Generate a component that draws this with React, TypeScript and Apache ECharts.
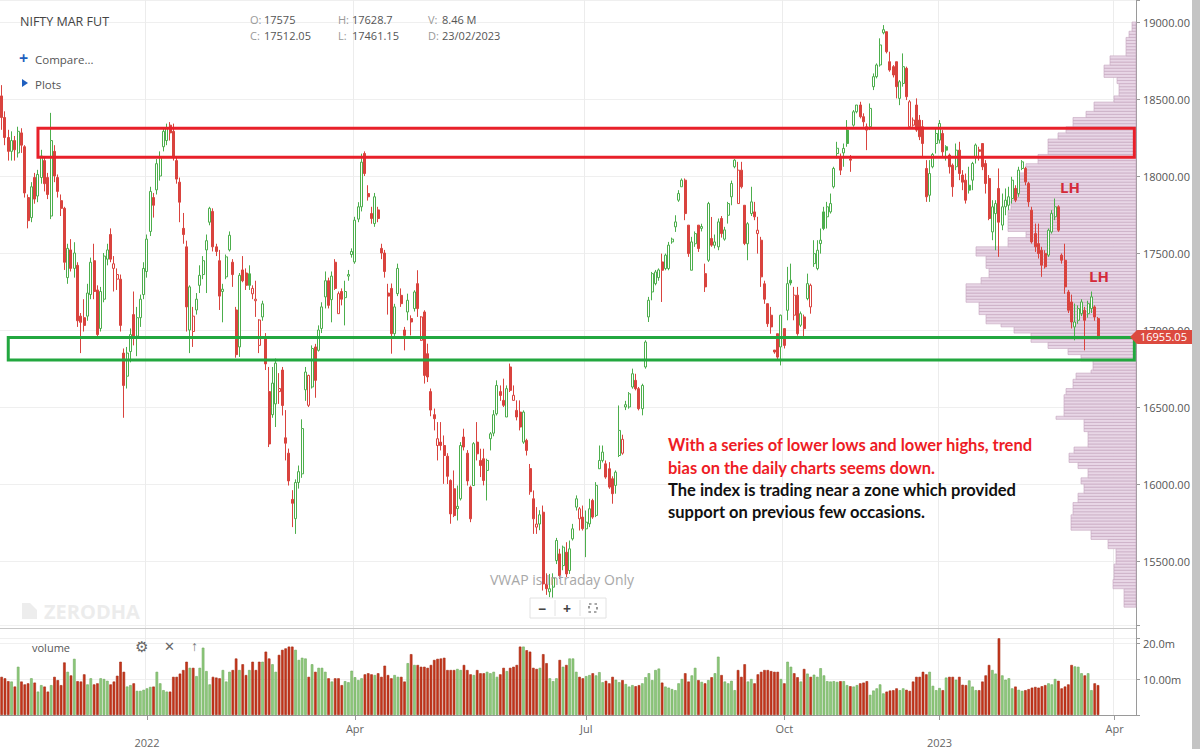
import React, { useEffect, useRef } from 'react';
import * as echarts from 'echarts';

// ---- OHLC data: [open, close, low, high] ----
const segA = [
[18520,18380,18300,18590],[18380,18250,18200,18420],[18250,18160,18100,18300],[18160,18230,18100,18290],[18230,18170,18100,18260],
[18150,18290,18120,18320],[18280,18200,18150,18310],[18190,17890,17860,18200],[17860,17710,17660,17880],[17730,17930,17700,17960],
[17990,17850,17820,18020],[17870,18010,17830,18040],[17990,18130,17950,18170],[18100,17950,17900,18130],[17990,17880,17850,18020],
[17740,18230,17720,18410],[18160,18000,17960,18200],[17990,17900,17860,18010],[17840,17790,17740,17880],[17790,17440,17390,17800],
[17340,17530,17300,17560],[17520,17400,17380,17590],[17400,17500,17340,17570],[17420,17060,17020,17440],[17090,17050,16850,17110],
[17080,17030,16990,17200],[17090,17240,17060,17300],[17230,17440,17200,17470],[17450,17250,17200,17560],[17260,16970,16950,17290],
[17010,17250,16990,17280],[17200,17480,17180,17500],[17460,17520,17420,17560],[17620,17460,17440,17660],[17400,17430,17250,17480],
[17330,17360,17260,17400],[17330,17030,16990,17360],[16850,16640,16430,16880],[16700,16850,16620,16890],[16860,16970,16790,17010],
[17100,16960,16900,17250],[16960,17080,16830,17150],[17080,17200,17020,17230],[17230,17400,17200,17440],[17380,17590,17340,17620],
[17640,17900,17610,17930],[17860,17810,17730,17890],[17910,18080,17880,18110],[18000,18120,17970,18160],[18190,18290,18160,18310],
[18230,18310,18200,18340],[18330,18280,18230,18350],[18290,18120,18100,18340],[18100,17980,17950,18130],[17960,17830,17700,17990],
[17660,17620,17560,17760],[17540,17150,16990,17580],[17000,17280,16850,17290]];
const segB = [
[16990,17090,16890,17150],[17130,17200,17100,17240],[17290,17355,17240,17420],[17360,17450,17330,17480],[17520,17580,17240,17620],
[17700,17790,17680,17800],[17770,17540,17510,17790],[17540,17510,17480,17560],[17450,17220,17130,17520],[17250,17265,17050,17300],
[17345,17475,17330,17490],[17520,17615,17510,17640],[17440,17360,17280,17460],[17130,16840,16820,17150],[16890,17355,16825,17370],
[17390,17320,17310,17480],[17370,17290,17260,17400],[17365,17290,17260,17420],[17235,17270,17200,17290],[17190,17200,17085,17320],
[16900,17065,16850,17070],[17085,17170,17060,17190],[16950,16780,16740,16980],[16600,16260,16240,16760],[16450,16655,16430,16760],
[16520,16785,16370,16815],[16600,16620,16520,16720],[16740,16510,16445,16760],[16300,16265,16153,16480],[16200,16020,15990,16230],
[15900,15875,15720,15960],[15775,16010,15676,16030],[16010,16080,15970,16120],[16066,16360,16040,16420],[16612,16727,16540,16760],
[16511,16705,16500,16710],[16630,16880,16620,16900],[16890,16673,16560,16910],[16868,17000,16860,17030],[17010,17150,16980,17180],
[17215,17320,17140,17380],[17320,17160,17140,17340],[17197,17350,17050,17380],[17440,17270,17260,17460],[17106,17236,17106,17250],
[17250,17200,17160,17270],[17210,17250,17030,17320],[17350,17360,17320,17390],[17490,17510,17470,17530],[17442,17713,17430,17735],
[17720,17800,17700,17830],[17800,18090,17770,18145],[18146,18016,18000,18160],[17886,17865,17840,17940],[17756,17724,17690,17800],
[17691,17865,17670,17890],[17780,17724,17700,17800]];
const segC = [
[17530,17500,17460,17560],[17500,17380,17340,17520],[17240,17220,17100,17300],[17270,16976,16846,17302],[16976,17150,16960,17170],
[17236,17400,17220,17431],[17225,17171,17150,17270],[17000,16965,16868,17020],[17117,17193,17063,17236],[17074,17052,16965,17095],
[17139,17247,17120,17258],[17301,17139,17085,17388],[16933,17085,16930,17090],[17117,16705,16652,17128],[16846,16695,16662,16911],
[16600,16480,16440,16620],[16450,16424,16348,16490],[16250,16294,16153,16402],[16272,16250,16218,16402],[16250,16185,16001,16315],
[16180,16050,16000,16200],[16023,15806,15742,16030],[15969,15795,15785,16088],[15840,15855,15763,15990],[15904,16250,15893,16272],
[16305,16240,16218,16359],[16200,16020,15990,16220],[15980,15774,15752,15990],[15990,16262,15990,16272],[16272,16196,16153,16402],
[16153,16120,16045,16229],[16164,16023,15991,16229],[16088,16153,15893,16164],[16294,16326,16218,16337],[16330,16450,16310,16480],
[16456,16640,16445,16673],[16600,16575,16540,16640],[16543,16511,16500,16684],[16435,16619,16435,16640],[16760,16608,16597,16782],
[16543,16576,16543,16640],[16478,16435,16413,16543],[16467,16370,16348,16543],[16272,16467,16261,16478],[16283,16218,16185,16294],
[16100,15950,15930,16130],[15904,15774,15676,15958],[15720,15740,15676,15850],[15740,15800,15700,15830],[15817,15351,15308,15860],
[15350,15320,15280,15420],[15300,15320,15265,15416],[15330,15390,15250,15420],[15503,15633,15480,15650],[15546,15405,15383,15579],
[15470,15590,15440,15600]];
const segD = [
[15557,15416,15395,15622],[15438,15579,15416,15633],[15644,15709,15633,15741],[15850,15904,15828,15926],[15774,15839,15698,15850],
[15785,15710,15698,15860],[15709,15752,15525,15828],[15741,15839,15720,15904],[15893,15785,15774,15904],[15796,15991,15785,16012],
[16099,16153,16099,16250],[16153,16207,16140,16250],[16131,16045,16034,16153],[16099,15980,15969,16142],[16034,15937,15872,16050],
[15991,16077,15937,16088],[16185,16348,16175,16510],[16200,16290,16190,16320],[16500,16515,16480,16540],[16500,16586,16489,16597],
[16630,16716,16619,16749],[16673,16619,16608,16716],[16619,16489,16478,16630],[16489,16640,16446,16651],[16760,16922,16749,16933],
[17085,17193,17052,17215],[17247,17366,17193,17377],[17301,17377,17290,17390],[17340,17390,17320,17400],
[17442,17388,17182,17496],[17399,17486,17388,17496],[17399,17551,17388,17572],[17572,17590,17560,17600],[17670,17702,17637,17745],
[17843,17886,17832,17908],[17930,17973,17930,17984],[17973,17756,17713,17984],[17681,17496,17475,17681],[17388,17572,17388,17605],
[17560,17626,17540,17640],[17681,17529,17507,17681],[17660,17672,17640,17690],[17366,17280,17247,17431],[17453,17821,17442,17832],
[17594,17551,17540,17734],[17550,17572,17530,17620],[17540,17702,17518,17724],[17724,17626,17600,17740],
[17590,17650,17580,17670],[17745,17821,17691,17832],[17865,17951,17810,17970],[18060,18103,18050,18110],
[17821,18038,17821,18092],[18038,17930,17919,18092],[17810,17562,17551,17810]];
const segE = [
[17560,17690,17453,17700],[17756,17832,17740,17930],[17767,17735,17713,17832],[17626,17648,17496,17735],[17583,17345,17280,17605],
[17300,17200,17170,17320],[17171,17041,17020,17171],[17096,17020,16976,17150],[16870,16857,16846,16870],[16976,16824,16800,16976],
[16890,17096,16770,17100],[17009,16900,16880,17009],[17128,17301,17063,17410],[17323,17305,17290,17431],
[17096,17226,17063,17280],[17226,16976,16963,17280],[17031,17106,17020,17120],[17085,17009,16943,17100],[17204,17301,17193,17366],
[17150,17290,17106,17301],[17431,17496,17410,17583],[17399,17518,17388,17583],[17561,17583,17496,17659],
[17767,17659,17648,17800],[17735,17800,17659,17832],[17767,17821,17756,17886],[17930,18049,17919,18060],[18146,18180,18114,18222],
[18125,18038,18006,18146],[18150,18179,18060,18211],[18298,18211,18190,18363],[18110,18103,18027,18136],
[18330,18417,18320,18428],[18417,18461,18407,18461],[18461,18385,18374,18482],[18385,18352,18320,18407],[18298,18320,18168,18341],
[18320,18439,18298,18471],[18580,18645,18558,18666],[18645,18721,18634,18731],[18721,18851,18710,18894],
[18930,18950,18920,18980],[18937,18807,18796,18937],[18742,18688,18677,18807],[18710,18656,18640,18720],
[18742,18580,18504,18742],[18504,18612,18460,18623],[18601,18710,18580,18796],[18699,18515,18493,18710],[18320,18482,18320,18493],
[18330,18363,18320,18380],[18461,18298,18287,18504],[18363,18255,18233,18396],[18320,18211,18125,18363],[18049,17865,17832,18103],
[17875,18016,17832,18103],[18060,18140,18050,18150]];
const segF = [
[18211,18276,18146,18309],[18233,18341,18211,18363],[18276,18157,18125,18298],[18190,18168,18100,18200],
[18136,18060,18016,18146],[18070,17930,17865,18081],[18060,18168,18038,18211],[18168,18016,17973,18222],[18006,17960,17908,18038],
[17973,17843,17821,18016],[17940,17908,17886,18060],[17973,18081,17908,18092],
[18125,18201,18081,18211],[18170,18160,18100,18190],[18211,18060,18038,18211],[18081,17951,17886,18103],
[17984,17724,17713,18006],[17637,17800,17583,17843],[17756,17821,17518,17843],[17919,17700,17475,18049],
[17681,17800,17648,17886],[17800,17843,17745,17919],[17810,17865,17778,17930],[17854,17973,17821,17995],
[17919,17843,17830,17940],[17886,18038,17865,18060],[18049,18092,18038,18103],
[18049,17962,17940,18060],[17951,17832,17800,17962],[17778,17572,17561,17800],[17626,17540,17507,17691],
[17561,17496,17464,17691],[17518,17421,17345,17540],[17496,17410,17399,17518],[17486,17648,17475,17659],
[17637,17756,17626,17778],[17735,17800,17713,17854],[17800,17648,17637,17810],[17486,17453,17431,17497],
[17453,17280,17235,17560],[17247,17128,17110,17260],[17182,17052,17010,17230],[17020,17052,16933,17172],
[17063,17139,17040,17160],[17106,17182,17090,17200],[17128,17063,16868,17150],[17106,17171,17080,17190],[17139,17215,17110,17250],
[17150,17085,17060,17160],[17074,16955,16940,17085]];

// ---- volume (millions) ----
const volA = [10.6,10.2,9.4,9.3,7.9,13.4,9.3,8.5,8.8,10.2,9.0,6.5,8.3,7.9,6.5,8.3,10.6,9.7,8.3,14.6,12.0,11.0,15.6,9.4,9.3,11.3,8.5,10.2,8.5,8.8,10.2,10.0,9.5,8.5,9.3,10.9,14.8,12.0,7.9,8.3,8.8,6.7,6.7,7.0,7.4,7.8,7.9,12.0,8.8,6.9,6.5,6.5,10.6,10.6,11.5,12.5,14.8,13.1];
const volB = [13.1,10.8,13.1,18.7,12.2,8.5,10.6,10.4,10.2,12.5,9.3,12.0,12.5,15.7,12.5,14.1,11.1,12.5,14.8,12.5,14.8,14.8,17.6,15.7,14.1,12.0,16.7,18.1,18.5,19.0,19.0,18.1,15.3,15.9,15.7,10.6,14.1,12.0,13.1,13.1,12.0,10.2,9.3,10.2,10.2,8.3,9.4,9.1,12.3,10.5,9.7,10.2,11.3,11.6,11.3,11.1,11.6];
const volC = [10.6,13.7,11.1,10.2,11.1,10.6,10.6,9.3,14.4,16.9,13.9,13.9,13.4,13.4,13.1,13.9,15.3,15.6,15.7,15.9,12.5,12.5,12.5,12.8,12.5,13.9,12.5,11.3,11.1,12.5,11.6,11.6,12.0,11.6,12.0,10.6,11.3,13.1,12.2,13.1,13.4,13.9,19.0,19.0,18.0,17.6,13.1,12.8,13.1,16.9,14.4,10.2,9.4,10.2,15.3,13.4];
const volD = [13.9,15.7,15.7,12.0,10.6,10.2,10.8,11.1,11.6,11.0,11.9,9.1,9.5,8.8,10.6,9.8,9.1,9.7,8.6,7.9,8.3,8.0,8.3,8.8,10.5,11.6,9.7,12.5,12.9,9.0,7.9,7.6,7.2,6.9,8.8,10.0,11.6,9.3,11.0,13.1,9.7,9.2,8.8,9.7,10.5,11.6,16.2,11.1,9.3,8.8,9.5,6.9,12.5,10.6,14.1];
const volE = [9.3,10.0,8.8,11.3,12.0,12.5,12.5,12.2,12.0,12.0,10.0,8.8,14.8,13.4,11.6,10.5,9.3,12.8,11.5,10.6,11.2,10.6,13.0,11.0,9.4,9.3,9.4,9.2,9.4,9.4,8.3,8.0,7.9,8.3,8.8,9.0,9.4,5.6,6.8,7.4,8.5,6.0,6.5,6.8,6.9,7.4,6.9,7.4,7.0,6.7,9.3,10.6,10.6,12.0,11.3,12.0,8.1];
const volF = [6.9,7.5,6.9,10.4,10.6,10.6,9.8,10.6,8.4,8.3,9.6,7.9,6.9,6.9,9.3,11.0,13.9,12.5,11.5,21.3,11.0,9.8,10.2,7.4,7.9,7.0,6.7,6.9,7.2,7.6,7.8,7.6,8.0,8.3,8.8,8.5,10.0,9.5,7.4,7.9,8.5,13.9,13.5,13.4,11.6,11.0,11.6,6.9,8.8,8.3];

// ---- axis ticks ----
const tickIdx = [44, 107, 177, 237, 284, 337];
const tickText = ['2022', 'Apr', 'Jul', 'Oct', '2023', 'Apr'];
const categoryCount = 344;
const priceLabels = [15500, 16000, 16500, 17000, 17500, 18000, 18500, 19000];
const volLabels: Record<number, string> = { 10: '10.00m', 20: '20.0m' };

// ---- volume profile bands [lowPrice, highPrice, relative volume] ----
const profileBands = [
[18950,19000,4],[18900,18950,7],[18775,18900,10],[18725,18775,26],[18650,18725,32],[18600,18650,19],[18525,18600,17],
[18475,18525,22],[18425,18475,42],[18375,18425,50],[18325,18375,63],[18275,18325,70],[18250,18275,78],[18150,18250,88],
[18075,18150,98],[18025,18075,110],[17925,18025,118],[17850,17925,123],[17775,17850,125],[17650,17775,128],[17600,17650,110],
[17550,17600,128],[17475,17550,160],[17400,17475,150],[17350,17400,147],[17300,17350,155],[17175,17300,170],[17100,17175,157],
[17050,17100,150],[17025,17050,135],[16975,17025,122],[16925,16975,105],[16875,16925,88],[16850,16875,68],[16800,16850,55],
[16750,16800,43],[16725,16750,45],[16675,16725,60],[16625,16675,63],[16575,16625,70],[16450,16575,72],[16425,16450,80],
[16350,16425,52],[16250,16350,48],[16200,16250,62],[16150,16200,67],[16100,16150,58],[16050,16100,48],[16000,16050,55],
[15950,16000,52],[15875,15950,58],[15800,15875,63],[15700,15800,65],[15650,15700,45],[15575,15650,28],[15475,15575,20],
[15375,15475,22],[15325,15375,23],[15200,15325,12]];
const profileStep = 20;

// ---- annotations ----
const lastPrice = 16955.05;
const redZone = [18122, 18310];
const greenZone = [16806, 16951];
const lhMarks = [[1078, 17930], [1107, 17350]];
const header = { symbol: 'NIFTY MAR FUT', O: '17575', C: '17512.05', H: '17628.7', L: '17461.15', V: '8.46 M', D: '23/02/2023' };
const noteRed = ['With a series of lower lows and lower highs, trend', 'bias on the daily charts seems down.'];
const noteBlack = ['The index is trading near a zone which provided', 'support on previous few occasions.'];

const GREEN = '#4cae4c';
const RED = '#d9433e';
const VGREEN = '#8fca7c';
const VRED = '#c5341a';

export default function App() {
  const ref = useRef<HTMLDivElement>(null);
  useEffect(() => {
    const el = ref.current!;
    const chart = echarts.init(el, undefined, { renderer: 'svg' });
    const candles = [...segA, ...segB, ...segC, ...segD, ...segE, ...segF];
    const volumes = [...volA, ...volB, ...volC, ...volD, ...volE, ...volF];
    const cats = Array.from({ length: categoryCount }, (_, i) => 'c' + i);
    const tickSet = new Set(tickIdx);

    const candleData = candles.map((c, i) => {
      const prev = i > 0 ? candles[i - 1][1] : c[0];
      const col = c[1] >= prev ? GREEN : RED;
      const hollow = c[1] > c[0];
      return {
        value: c,
        itemStyle: { color: hollow ? '#ffffff' : col, color0: hollow ? '#ffffff' : col, borderColor: col, borderColor0: col, borderWidth: 1 },
      };
    });
    const volData = volumes.map((v, i) => {
      const c = candles[i] || candles[candles.length - 1];
      const prev = i > 0 ? candles[i - 1][1] : c[0];
      const up = c[1] >= prev;
      return { value: v, itemStyle: { color: up ? VGREEN : VRED, borderColor: up ? '#6ba95a' : '#a52a12', borderWidth: 0.6 } };
    });
    const profileRows: number[][] = [];
    for (let p = 15200; p < 19000; p += profileStep) {
      const mid = p + profileStep / 2;
      const band = profileBands.find(b => mid >= b[0] && mid < b[1]);
      if (band) profileRows.push([band[2], p, p + profileStep]);
    }
    const labelAt = (idx: number) => {
      const k = tickIdx.indexOf(idx);
      if (k < 0) return '';
      const t = tickText[k];
      return /^\d{4}$/.test(t) ? '\n' + t : t;
    };

    const option: any = {
      animation: false,
      backgroundColor: '#ffffff',
      grid: [
        { left: 0, right: 64, top: 0, height: 638 },
        { left: 0, right: 64, top: 625, height: 90 },
      ],
      xAxis: [
        { type: 'category', gridIndex: 0, data: cats, boundaryGap: true, axisLine: { show: false }, axisTick: { show: false }, axisLabel: { show: false },
          splitLine: { show: true, interval: (i: number) => tickSet.has(i), lineStyle: { color: '#ececec' } } },
        { type: 'category', gridIndex: 1, data: cats, boundaryGap: true, axisLine: { show: true, lineStyle: { color: '#9a9a9a' } },
          axisTick: { show: true, interval: (i: number) => tickSet.has(i), alignWithLabel: true, length: 5, lineStyle: { color: '#9a9a9a' } },
          axisLabel: { show: true, interval: (i: number) => tickSet.has(i), formatter: (_v: string, i: number) => labelAt(i), color: '#666', fontSize: 11, fontFamily: 'Open Sans', lineHeight: 14, margin: 6 },
          splitLine: { show: true, interval: (i: number) => tickSet.has(i), lineStyle: { color: '#ececec' } } },
        { type: 'value', gridIndex: 0, min: 0, max: 1136, inverse: true, show: false },
      ],
      yAxis: [
        { type: 'value', gridIndex: 0, position: 'right', min: 15000, max: 19142.86, interval: 500,
          axisLine: { show: true, lineStyle: { color: '#9a9a9a' } }, axisTick: { show: true, length: 4, lineStyle: { color: '#9a9a9a' } },
          axisLabel: { color: '#555', fontSize: 11, fontFamily: 'Open Sans', margin: 7,
            formatter: (v: number) => (priceLabels.indexOf(Math.round(v)) >= 0 && Math.abs(v - Math.round(v)) < 0.01 ? v.toFixed(2) : '') },
          splitLine: { show: true, lineStyle: { color: '#efefef' } } },
        { type: 'value', gridIndex: 1, position: 'right', min: 0, max: 25, interval: 10,
          axisLine: { show: true, lineStyle: { color: '#9a9a9a' } }, axisTick: { show: true, length: 4, lineStyle: { color: '#9a9a9a' } },
          axisLabel: { color: '#555', fontSize: 11, fontFamily: 'Open Sans', margin: 7, formatter: (v: number) => volLabels[v] || '' },
          splitLine: { show: true, lineStyle: { color: '#f0f0f0' } } },
      ],
      series: [
        {
          type: 'custom', name: 'profile', xAxisIndex: 2, yAxisIndex: 0, z: 1,
          data: profileRows, encode: { x: 0, y: [1, 2] },
          renderItem: (_p: any, api: any) => {
            const len = api.value(0), lo = api.value(1), hi = api.value(2);
            const a = api.coord([0, hi]);
            const b = api.coord([len, lo]);
            return { type: 'rect', shape: { x: Math.min(a[0], b[0]), y: a[1], width: Math.abs(b[0] - a[0]), height: b[1] - a[1] },
              style: { fill: '#e8d6e6', stroke: '#c2a2bc', lineWidth: 0.6 } };
          },
        },
        {
          type: 'candlestick', name: 'NIFTY', xAxisIndex: 0, yAxisIndex: 0, z: 3, barWidth: 2.5,
          data: candleData,
        },
        {
          type: 'bar', name: 'volume', xAxisIndex: 1, yAxisIndex: 1, barWidth: '78%', data: volData,
        },
      ],
    };
    chart.setOption(option);

    const px = (idx: number, price: number) => chart.convertToPixel({ seriesIndex: 1 }, ['c' + idx, price]) as number[];
    const r1 = px(11, redZone[1]);
    const r2 = px(categoryCount - 1, redZone[0]);
    const g1 = px(2, greenZone[1]);
    const g2 = px(categoryCount - 1, greenZone[0]);
    const lp = px(categoryCount - 1, lastPrice);
    const txt = (text: string, x: number, y: number, extra: any = {}) => {
      const { z, ...rest } = extra;
      return {
        type: 'text', z: z === undefined ? 20 : z,
        style: { text, x, y, fill: '#555', fontSize: 11, fontFamily: 'Open Sans', align: 'left', verticalAlign: 'middle', textAlign: 'left', textVerticalAlign: 'middle', ...rest },
      };
    };
    const note = { fontSize: 16.5, fontWeight: 'bold', fontFamily: 'Lato' };
    const graphics: any[] = [
      { type: 'rect', z: 15, shape: { x: r1[0], y: r1[1], width: r2[0] - r1[0], height: r2[1] - r1[1] }, style: { fill: 'none', stroke: '#e8202a', lineWidth: 3 } },
      { type: 'rect', z: 15, shape: { x: g1[0], y: g1[1], width: g2[0] - g1[0], height: g2[1] - g1[1] }, style: { fill: 'none', stroke: '#22a73f', lineWidth: 3 } },
      { type: 'polygon', z: 30, shape: { points: [[1130, lp[1]], [1137, lp[1] - 7], [1137, lp[1] + 7]] }, style: { fill: '#dc4a3f' } },
      { type: 'rect', z: 30, shape: { x: 1136, y: lp[1] - 7, width: 58, height: 14, r: 2 }, style: { fill: '#dc4a3f' } },
      txt(lastPrice.toFixed(2), 1140, lp[1], { fill: '#ffffff', z: 32 }),
      { type: 'line', z: 15, shape: { x1: 0, y1: 628.5, x2: 1136, y2: 628.5 }, style: { stroke: '#c8c8c8', lineWidth: 1 } },
      { type: 'rect', z: 35, shape: { x: 1192, y: 0, width: 8, height: 749 }, style: { fill: '#c4c4c4' } },
      txt(header.symbol, 20, 21, { fontSize: 12.5, fill: '#444' }),
      txt('+', 19, 58, { fontSize: 16, fill: '#1f5fbf', fontWeight: 'bold' }),
      txt('Compare...', 35, 59, { fontSize: 11.5, fill: '#555' }),
      { type: 'polygon', z: 20, shape: { points: [[22, 79], [28, 83], [22, 87]] }, style: { fill: '#1f5fbf' } },
      txt('Plots', 35, 84, { fontSize: 11.5, fill: '#555' }),
      txt('O:', 250, 19, { fill: '#999' }), txt(header.O, 264, 19),
      txt('C:', 250, 35, { fill: '#999' }), txt(header.C, 264, 35),
      txt('H:', 338, 19, { fill: '#999' }), txt(header.H, 352, 19),
      txt('L:', 338, 35, { fill: '#999' }), txt(header.L, 352, 35),
      txt('V:', 428, 19, { fill: '#999' }), txt(header.V, 442, 19),
      txt('D:', 428, 35, { fill: '#999' }), txt(header.D, 442, 35),
      txt('VWAP is Intraday Only', 490, 579, { fontSize: 14, fill: '#a8a8a8' }),
      { type: 'polygon', z: 0, shape: { points: [[22, 603], [30, 603], [37, 610], [37, 619], [22, 619]] }, style: { fill: '#ededed' } },
      txt('ZERODHA', 44, 611, { fontSize: 20, fill: '#ececec', fontWeight: 'bold', z: 0 }),
      { type: 'rect', z: 20, shape: { x: 530, y: 598, width: 76, height: 20 }, style: { fill: '#fff', stroke: '#e2e2e2' } },
      { type: 'line', z: 20, shape: { x1: 555, y1: 600, x2: 555, y2: 616 }, style: { stroke: '#e2e2e2' } },
      { type: 'line', z: 20, shape: { x1: 580, y1: 600, x2: 580, y2: 616 }, style: { stroke: '#e2e2e2' } },
      txt('−', 538, 608, { fontSize: 14, fill: '#444', fontWeight: 'bold', z: 21 }),
      txt('+', 563, 608, { fontSize: 14, fill: '#444', fontWeight: 'bold', z: 21 }),
      { type: 'rect', z: 21, shape: { x: 589, y: 604, width: 8, height: 8 }, style: { fill: 'none', stroke: '#555', lineWidth: 1.2, lineDash: [2.5, 3] } },
      txt('volume', 32, 647, { fontSize: 11, fill: '#555' }),
      txt('⚙', 135, 646, { fontSize: 15, fill: '#666' }),
      txt('✕', 164, 646, { fontSize: 13, fill: '#666' }),
      txt('↑', 191, 645, { fontSize: 14, fill: '#777' }),
      txt(noteRed[0], 668, 445, { ...note, fill: '#ee1c25' }),
      txt(noteRed[1], 668, 468, { ...note, fill: '#ee1c25' }),
      txt(noteBlack[0], 668, 490, { ...note, fill: '#111' }),
      txt(noteBlack[1], 668, 512, { ...note, fill: '#111' }),
    ];
    lhMarks.forEach(([xPix, price]) => {
      const p = chart.convertToPixel({ seriesIndex: 1 }, ['c0', price]) as number[];
      graphics.push(txt('LH', xPix - 18, p[1], { fontSize: 15, fill: '#d42a3a', fontWeight: 'bold', fontFamily: 'Open Sans' }));
    });
    chart.setOption({ graphic: graphics });
    return () => chart.dispose();
  }, []);
  return <div ref={ref} style={{ position: 'fixed', left: 0, top: 0, width: 1200, height: 749, background: '#fff' }} />;
}
